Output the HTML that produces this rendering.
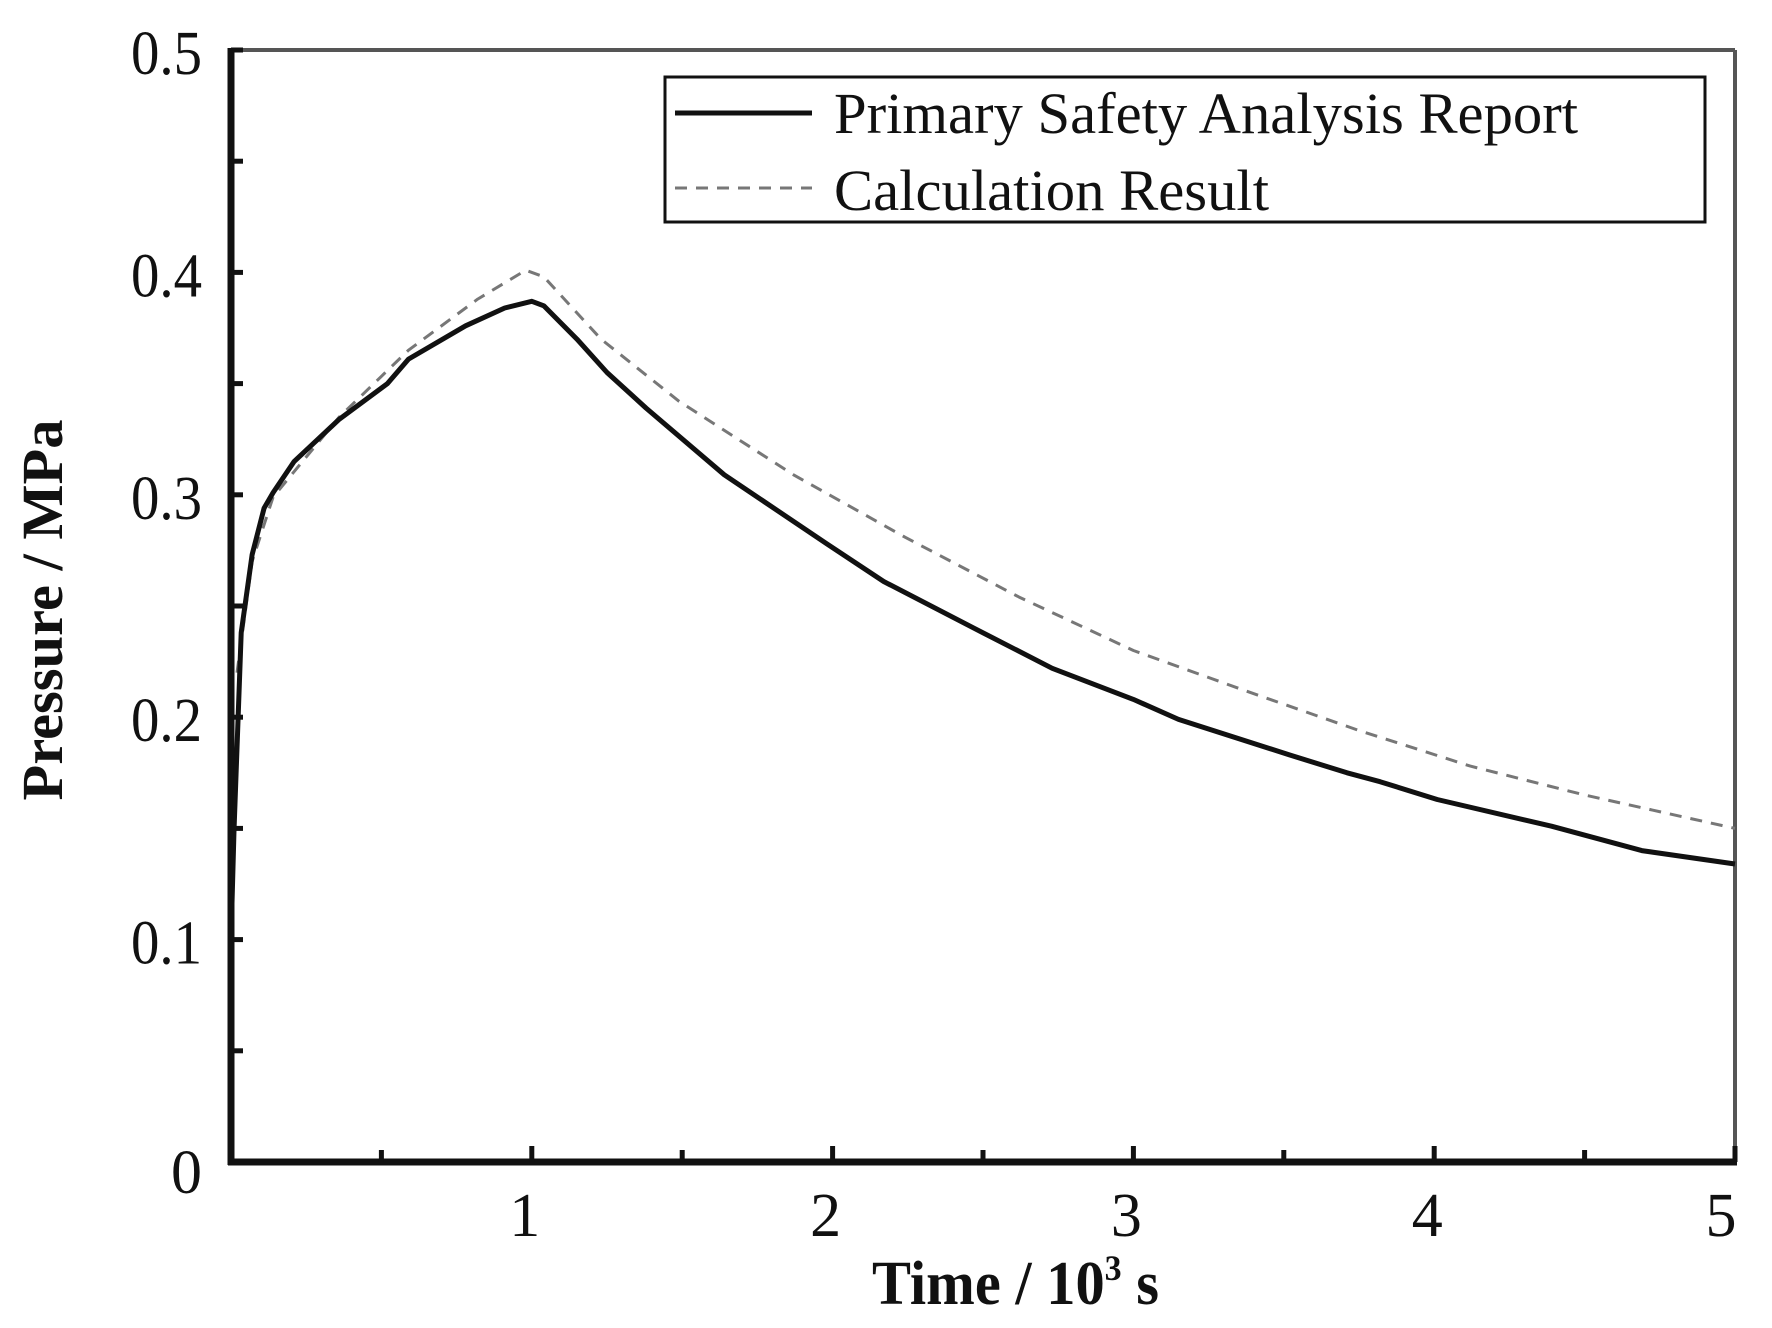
<!DOCTYPE html>
<html><head><meta charset="utf-8"><style>html,body{margin:0;padding:0;background:#fff}svg{display:block}</style></head>
<body>
<svg id="chart" width="1772" height="1328" viewBox="0 0 1772 1328" xmlns="http://www.w3.org/2000/svg">
<rect x="0" y="0" width="1772" height="1328" fill="#fff"/>
<g id="axes"></g>
<g id="series"></g>
<g id="legend">
  <rect x="665" y="77" width="1040" height="145" fill="#fff" stroke="#111" stroke-width="3"/>
  <line x1="675" y1="113" x2="812" y2="113" stroke="#111" stroke-width="5"/>
  <text x="834" y="133" font-family="Liberation Serif, serif" font-size="58" fill="#111" textLength="744" lengthAdjust="spacingAndGlyphs">Primary Safety Analysis Report</text>
  <line x1="675" y1="188" x2="812" y2="188" stroke="#777" stroke-width="3" stroke-dasharray="12,9"/>
  <text x="834" y="210" font-family="Liberation Serif, serif" font-size="58" fill="#111" textLength="435" lengthAdjust="spacingAndGlyphs">Calculation Result</text>
</g>
</svg>
<script>
const xTicks = [1, 2, 3, 4, 5];
const yTicks = [0, 0.1, 0.2, 0.3, 0.4, 0.5];
const xTickLabels = ["1", "2", "3", "4", "5"];
const yTickLabels = ["0", "0.1", "0.2", "0.3", "0.4", "0.5"];
const psarTime = [0, 0.01, 0.034, 0.07, 0.11, 0.14, 0.21, 0.36, 0.52, 0.59, 0.78, 0.91, 1.0, 1.04, 1.15, 1.25, 1.38, 1.64, 1.98, 2.17, 2.47, 2.73, 3.0, 3.15, 3.52, 3.71, 3.82, 4.01, 4.39, 4.69, 5.0];
const psarPressure = [0.1, 0.149, 0.238, 0.273, 0.294, 0.301, 0.315, 0.334, 0.35, 0.361, 0.376, 0.384, 0.387, 0.385, 0.37, 0.355, 0.339, 0.309, 0.278, 0.261, 0.240, 0.222, 0.208, 0.199, 0.183, 0.175, 0.171, 0.163, 0.151, 0.140, 0.134];
const calcTime = [0.02, 0.07, 0.14, 0.36, 0.59, 0.82, 0.98, 1.04, 1.23, 1.49, 1.87, 2.24, 2.62, 3.0, 3.37, 3.75, 4.12, 4.5, 5.0];
const calcPressure = [0.22, 0.27, 0.299, 0.335, 0.365, 0.388, 0.401, 0.398, 0.37, 0.342, 0.309, 0.281, 0.254, 0.23, 0.212, 0.194, 0.178, 0.165, 0.15];

const X0 = 231, X1 = 1735, Y0 = 1162, Y1 = 50;
const xs = t => X0 + (t / 5) * (X1 - X0);
const ys = p => Y0 - (p / 0.5) * (Y0 - Y1);
const NS = "http://www.w3.org/2000/svg";
function mk(tag, attrs, parent) {
  const e = document.createElementNS(NS, tag);
  for (const k in attrs) e.setAttribute(k, attrs[k]);
  parent.appendChild(e);
  return e;
}
const axes = document.getElementById('axes');
const series = document.getElementById('series');

let fr = mk('line', {x1: X0, y1: Y1, x2: X1, y2: Y1, stroke: '#555', 'stroke-width': 4}, axes);


fr = mk('line', {x1: X1, y1: Y1, x2: X1, y2: Y0, stroke: '#555', 'stroke-width': 4}, axes);


fr = mk('line', {x1: X0, y1: Y1 - 2, x2: X0, y2: Y0 + 3, stroke: '#111', 'stroke-width': 7}, axes);


fr = mk('line', {x1: X0 - 3, y1: Y0, x2: X1 + 2, y2: Y0, stroke: '#111', 'stroke-width': 7}, axes);



for (let t = 0.5; t <= 5.001; t += 0.5) {
  const major = Math.abs(t - Math.round(t)) < 1e-6;
  const tk = mk('line', {x1: xs(t), y1: Y0, x2: xs(t), y2: Y0 - (major ? 16 : 12), stroke: '#111', 'stroke-width': 5}, axes);
  
  
}
xTicks.forEach((t, i) => {
  const lb = mk('text', {x: xs(t) - (i === 4 ? 14 : 7), y: 1236, 'text-anchor': 'middle', 'font-family': 'Liberation Serif, serif', 'font-size': 62, fill: '#111'}, axes);
  lb.textContent = xTickLabels[i];
  
  
});
for (let p = 0.05; p <= 0.5001; p += 0.05) {
  const tk = mk('line', {x1: X0, y1: ys(p), x2: X0 + 12, y2: ys(p), stroke: '#111', 'stroke-width': 5}, axes);
  
  
}
yTicks.forEach((p, i) => {
  const isZero = p === 0;
  const lb = mk('text', {x: 202, y: isZero ? 1193 : ys(p) + 24, 'text-anchor': 'end', 'font-family': 'Liberation Serif, serif', 'font-size': 62, fill: '#111'}, axes);
  if (!isZero) { lb.setAttribute('textLength', 71); lb.setAttribute('lengthAdjust', 'spacingAndGlyphs'); }
  lb.textContent = yTickLabels[i];
  
  
});

let xt = mk('text', {x: 872, y: 1304, 'font-family': 'Liberation Serif, serif', 'font-size': 62, 'font-weight': 'bold', fill: '#111', textLength: 287, lengthAdjust: 'spacingAndGlyphs'}, axes);
xt.innerHTML = 'Time / 10<tspan dy="-24" font-size="36">3</tspan><tspan dy="24"> s</tspan>';


let yt = mk('text', {x: 0, y: 0, 'text-anchor': 'middle', 'font-family': 'Liberation Serif, serif', 'font-size': 58, 'font-weight': 'bold', fill: '#111', textLength: 381, lengthAdjust: 'spacingAndGlyphs', transform: 'translate(62,610) rotate(-90)'}, axes);
yt.textContent = 'Pressure / MPa';



const dCalc = calcTime.map((t, i) => (i ? 'L' : 'M') + xs(t).toFixed(1) + ' ' + ys(calcPressure[i]).toFixed(1)).join(' ');
const pc = mk('path', {d: dCalc, fill: 'none', stroke: '#777', 'stroke-width': 3, 'stroke-dasharray': '12,9', 'stroke-linejoin': 'round'}, series);


const dPsar = psarTime.map((t, i) => (i ? 'L' : 'M') + xs(t).toFixed(1) + ' ' + ys(psarPressure[i]).toFixed(1)).join(' ');
const pp = mk('path', {d: dPsar, fill: 'none', stroke: '#111', 'stroke-width': 5, 'stroke-linejoin': 'round'}, series);


</script>
</body></html>
